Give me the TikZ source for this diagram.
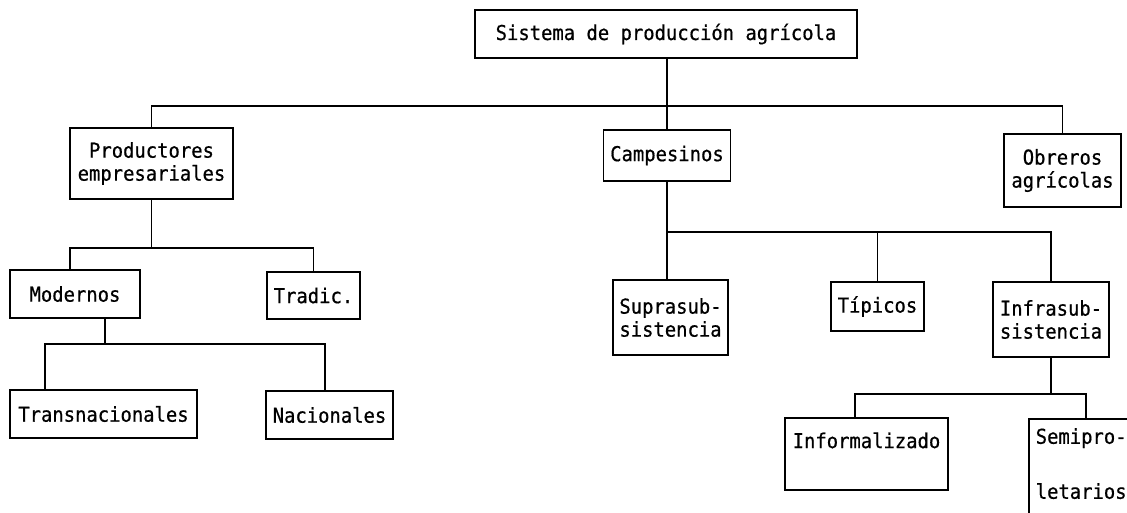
\documentclass[tikz,border=0pt]{standalone}
\usepackage{fontspec}
\newfontfamily\maquina[FakeStretch=0.92,FakeBold=0.6]{DejaVu Sans Mono}
\usepackage{tikz}

\begin{document}
\begin{tikzpicture}[x=1pt,y=-1pt,
  caja/.style={draw,line width=1.5pt,inner sep=0pt,align=center,
    font=\maquina\fontsize{20.5}{23}\selectfont},
  linea/.style={line width=1.5pt}]
\useasboundingbox (0,0) rectangle (1127,512);
\clip (0,0) rectangle (1127,512);
\fill[white] (0,0) rectangle (1127,512);
\node[caja,minimum width=382pt,minimum height=48pt] (sistema) at (666,34) {Sistema de producción agrícola};
\node[caja,minimum width=163pt,minimum height=71pt] (productores) at (151.5,163.5) {Productores\\empresariales};
\node[caja,minimum width=127pt,minimum height=51pt] (campesinos) at (667,155.5) {Campesinos};
\node[caja,minimum width=117pt,minimum height=73pt] (obreros) at (1062.5,170.5) {Obreros\\agrícolas};
\node[caja,minimum width=130pt,minimum height=48pt] (modernos) at (75,294) {Modernos};
\node[caja,minimum width=93pt,minimum height=47pt] (tradic) at (313.5,295.5) {Tradic.};
\node[caja,minimum width=187pt,minimum height=48pt] (transnac) at (103.5,414) {Transnacionales};
\node[caja,minimum width=127pt,minimum height=48pt] (nacionales) at (329.5,415) {Nacionales};
\node[caja,minimum width=115pt,minimum height=75pt] (suprasub) at (670.5,317.5) {Suprasub-\\sistencia};
\node[caja,minimum width=93pt,minimum height=49pt] (tipicos) at (877.5,306.5) {Típicos};
\node[caja,minimum width=116pt,minimum height=75pt] (infrasub) at (1051,319.5) {Infrasub-\\sistencia};
\node[caja,line width=2.2pt,minimum width=163pt,text height=30pt,text depth=42pt,anchor=north] (informal) at (866.5,417) {Informalizado};
\node[caja,anchor=north west,text width=103pt,inner xsep=7pt,align=left,text height=25pt,text depth=120pt] (semiprol) at (1028,418) {Semipro-\\[32pt]letarios};
\draw[linea] ([xshift=1pt]sistema.south) -- ++(0,47) coordinate (b1);
\draw[linea] (b1) -| (productores.north);
\draw[linea] (b1) -| (campesinos.north);
\draw[linea] (b1) -| (obreros.north);
\draw[linea] (productores.south) -- ++(0,48) coordinate (b2);
\draw[linea] (b2) -| ([xshift=-5pt]modernos.north);
\draw[linea] (b2) -| (tradic.north);
\draw[linea] ([xshift=30pt]modernos.south) -- ++(0,25) coordinate (b3);
\draw[linea] (b3) -| ([xshift=-58.5pt]transnac.north);
\draw[linea] (b3) -| ([xshift=-4.5pt]nacionales.north);
\draw[linea] (campesinos.south) -- ++(0,50) coordinate (b4);
\draw[linea] (b4) -| ([xshift=-3.5pt]suprasub.north);
\draw[linea] (b4) -| (tipicos.north);
\draw[linea] (b4) -| (infrasub.north);
\draw[linea] (infrasub.south) -- ++(0,36) coordinate (b5);
\draw[linea] (b5) -| ([xshift=-11.5pt]informal.north);
\draw[linea] (b5) -| ([xshift=-1.5pt]semiprol.north);
\end{tikzpicture}
\end{document}
